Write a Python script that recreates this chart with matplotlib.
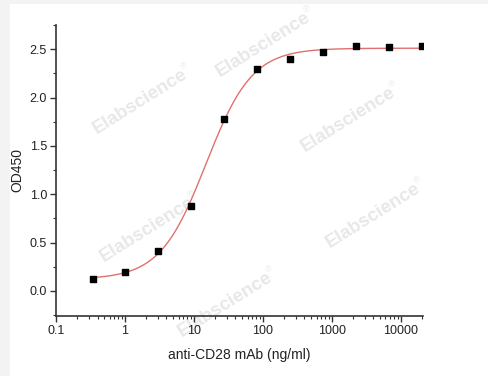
import numpy as np
import matplotlib
matplotlib.use("Agg")
import matplotlib.pyplot as plt
import matplotlib.patches as patches
from matplotlib.ticker import LogLocator, MultipleLocator, FixedFormatter, FixedLocator

plt.rcParams["font.family"] = ["Liberation Sans", "DejaVu Sans"]

# concentracoes (diluicao 1:3) e leituras OD450
conc = [0.339, 1.016, 3.05, 9.14, 27.4, 82.3, 247, 741, 2222, 6667, 20000]
od450 = [0.12, 0.19, 0.415, 0.88, 1.78, 2.30, 2.40, 2.47, 2.53, 2.52, 2.53]

# parametros do ajuste 4PL
fit_bottom = 0.12
fit_top = 2.51
fit_ec50 = 15.0
fit_hill = 1.3

x_ticks = [0.1, 1, 10, 100, 1000, 10000]
x_labels = ["0.1", "1", "10", "100", "1000", "10000"]

# marcas d'agua: (x, y) em pixels a partir do topo
marcas = [(263, 45), (140, 102), (348, 120), (147, 230), (373, 216), (225, 305)]

W, H = 489, 376
fig = plt.figure(figsize=(W / 100, H / 100), dpi=100, facecolor="#f3f3f3")
fig.patches.append(patches.Rectangle((10 / W, 0), 1, 1 - 4 / H, transform=fig.transFigure,
                                     facecolor="white", edgecolor="none", zorder=-10))

ax = fig.add_axes([56 / W, 60 / H, (423 - 56) / W, (316 - 25) / H])
ax.set_facecolor("none")
ax.set_zorder(2)

# curva ajustada
xs = np.logspace(np.log10(conc[0]), np.log10(conc[-1]), 300)
ys = fit_top + (fit_bottom - fit_top) / (1 + (xs / fit_ec50) ** fit_hill)
ax.plot(xs, ys, color="#e07070", lw=1.0, zorder=2)

ax.scatter(conc, od450, marker="s", s=22, color="black", zorder=3)

ax.set_xscale("log")
ax.set_xlim(0.1, 21000)
ax.set_ylim(-0.26, 2.75)

ax.xaxis.set_major_locator(FixedLocator(x_ticks))
ax.xaxis.set_major_formatter(FixedFormatter(x_labels))
ax.xaxis.set_minor_locator(LogLocator(base=10, subs=np.arange(2, 10), numticks=20))
ax.xaxis.set_minor_formatter(plt.NullFormatter())
ax.yaxis.set_major_locator(FixedLocator([0.0, 0.5, 1.0, 1.5, 2.0, 2.5]))
ax.yaxis.set_major_formatter(FixedFormatter(["0.0", "0.5", "1.0", "1.5", "2.0", "2.5"]))
ax.yaxis.set_minor_locator(MultipleLocator(0.25))

for s in ["top", "right"]:
    ax.spines[s].set_visible(False)
for s in ["left", "bottom"]:
    ax.spines[s].set_linewidth(1.2)
    ax.spines[s].set_color("#333333")

ax.tick_params(which="major", direction="out", length=4, width=1, color="#333333",
               labelsize=9, labelcolor="#222222", pad=2.5)
ax.tick_params(which="minor", direction="out", length=2.5, width=0.8, color="#333333")

ax.set_xlabel("anti-CD28 mAb (ng/ml)", fontsize=10, color="#222222", labelpad=8)
ax.set_ylabel("OD450", fontsize=10, color="#222222", labelpad=4)

# marcas d'agua Elabscience (atras dos dados)
ang = np.deg2rad(32)
for px, py in marcas:
    fig.text(px / W, 1 - py / H, "Elabscience", fontsize=13.5, fontweight="bold",
             color="#e8e8e8", rotation=32, ha="center", va="center", zorder=1)
    rx = px + 55 * np.cos(ang) - 7 * np.sin(ang)
    ry = py - 55 * np.sin(ang) - 7 * np.cos(ang)
    fig.text(rx / W, 1 - ry / H, "\u00ae", fontsize=6.5, color="#e8e8e8",
             ha="center", va="center", zorder=1)

fig.savefig("out.png", dpi=100, facecolor=fig.get_facecolor())
